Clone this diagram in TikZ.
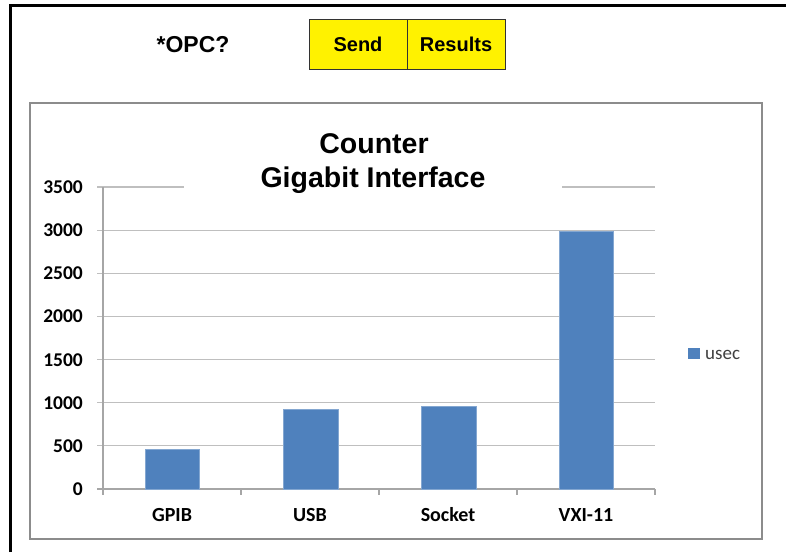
\documentclass[tikz,border=0pt]{standalone}
\usepackage{fontspec}
\setmainfont{Liberation Sans}
\newfontfamily\calib{Carlito}
\definecolor{barblue}{HTML}{4F81BD}
\definecolor{gridgray}{HTML}{BFBFBF}
\definecolor{axgray}{HTML}{A6A6A6}
\definecolor{boxgray}{HTML}{8C8C8C}
\definecolor{legtext}{HTML}{404040}
\tikzset{
  btn/.style={draw=black!80, line width=0.8pt, fill=yellow, minimum width=98pt, minimum height=50pt, inner sep=0pt, font=\fontsize{20}{24}\selectfont\bfseries},
  ylab/.style={anchor=base east, inner sep=0pt, font=\calib\fontsize{19.5}{23}\selectfont\bfseries},
  xlab/.style={anchor=base, inner sep=0pt, font=\calib\fontsize{20}{24}\selectfont\bfseries},
  grid/.style={draw=gridgray, line width=1.2pt},
  bar/.style={fill=barblue, draw=barblue!70!white, line width=0.6pt}
}
\begin{document}
\begin{tikzpicture}[x=1pt,y=-1pt]
\useasboundingbox (0,0) rectangle (786,552);
\fill[white] (0,0) rectangle (786,552);
% outer frame
\draw[line width=3pt] (10,552) -- (10,5) -- (786,5);
% header
\node[anchor=base, inner sep=0pt, font=\fontsize{23}{27}\selectfont\bfseries] (opc) at (193,52) {*OPC?};
\node[btn] (send) at (358,44) {Send};
\node[btn] (results) at (456,44) {Results};
% chart frame
\draw[draw=boxgray, line width=2pt] (30,103) rectangle (762,539);
% gridlines
\foreach \k/\t in {0/0,1/500,2/1000,3/1500,4/2000,5/2500,6/3000}{
  \pgfmathsetmacro{\yy}{489-\k*43.143}
  \draw[grid] (97,\yy) -- (655,\yy);
  \node[ylab] at (83,\yy+6.5) {\t};
}
\draw[grid] (97,187) -- (184,187);
\draw[grid] (562,187) -- (655,187);
\node[ylab] at (83,193.5) {3500};
% axes
\draw[draw=axgray, line width=1.2pt] (103,187) -- (103,495);
\draw[draw=axgray, line width=1.2pt] (97,489) -- (655,489);
\foreach \x in {241,379,517,655}{
  \draw[draw=axgray, line width=1.2pt] (\x,489) -- (\x,495);
}
% bars
\fill[bar] (145,489) rectangle (199,449);
\fill[bar] (283,489) rectangle (338,409);
\fill[bar] (421,489) rectangle (476,406);
\fill[bar] (559,489) rectangle (613,231);
% category labels
\node[xlab] (l1) at (172,521) {GPIB};
\node[xlab] (l2) at (310,521) {USB};
\node[xlab] (l3) at (448,521) {Socket};
\node[xlab] (l4) at (586,521) {VXI-11};
% title
\node[anchor=base, inner sep=0pt, font=\fontsize{28.5}{32}\selectfont\bfseries] (t1) at (374,153) {Counter};
\node[anchor=base, inner sep=0pt, font=\fontsize{28.5}{32}\selectfont\bfseries] (t2) at (373,187) {Gigabit Interface};
% legend
\fill[barblue] (688,348) rectangle (700,359);
\node[anchor=base west, inner sep=0pt, text=legtext, font=\calib\fontsize{19}{22}\selectfont] (leg) at (705,359) {usec};
\end{tikzpicture}
\end{document}
